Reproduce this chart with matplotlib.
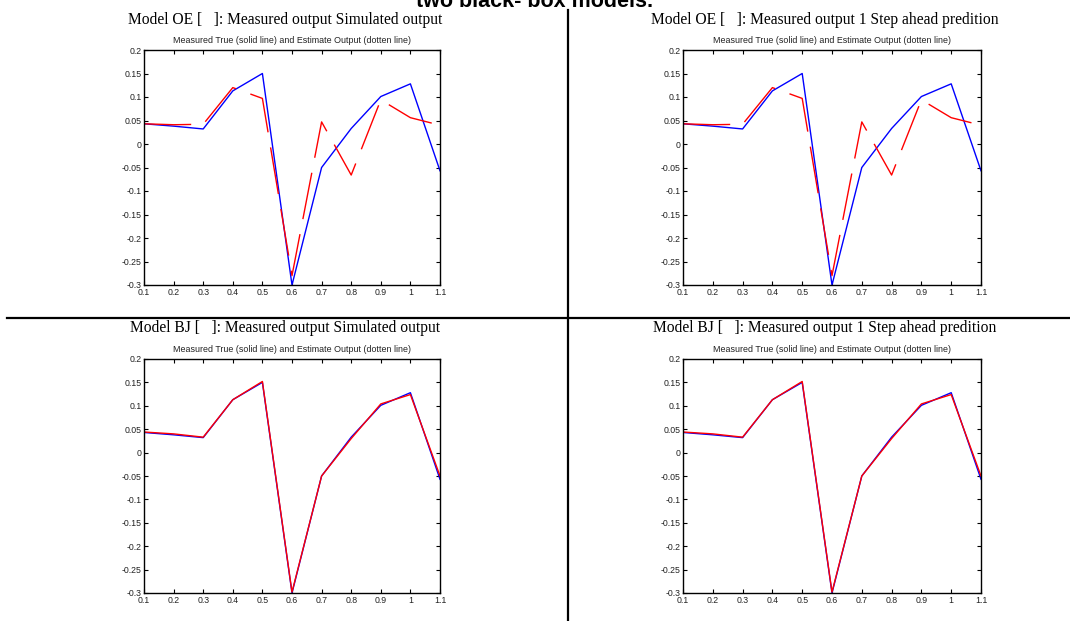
import matplotlib
matplotlib.use("Agg")
import matplotlib.pyplot as plt
from matplotlib.lines import Line2D

# ---- data ----
x_vals = [0.1, 0.2, 0.3, 0.4, 0.5, 0.6, 0.7, 0.8, 0.9, 1.0, 1.1]
measured = [0.043, 0.038, 0.032, 0.113, 0.150, -0.300, -0.050, 0.033, 0.101, 0.128, -0.057]
oe_estimate = [0.043, 0.041, 0.042, 0.120, 0.097, -0.280, 0.047, -0.066, 0.094, 0.056, 0.040]
bj_estimate = [0.044, 0.040, 0.033, 0.113, 0.152, -0.298, -0.050, 0.030, 0.104, 0.124, -0.050]

xticks = [0.1, 0.2, 0.3, 0.4, 0.5, 0.6, 0.7, 0.8, 0.9, 1.0, 1.1]
xtick_labels = ["0.1", "0.2", "0.3", "0.4", "0.5", "0.6", "0.7", "0.8", "0.9", "1", "1.1"]
yticks = [0.2, 0.15, 0.1, 0.05, 0.0, -0.05, -0.1, -0.15, -0.2, -0.25, -0.3]
ytick_labels = ["0.2", "0.15", "0.1", "0.05", "0", "-0.05", "-0.1", "-0.15", "-0.2", "-0.25", "-0.3"]

panel_titles = [
    "Model OE [   ]: Measured output Simulated output",
    "Model OE [   ]: Measured output 1 Step ahead predition",
    "Model BJ [   ]: Measured output Simulated output",
    "Model BJ [   ]: Measured output 1 Step ahead predition",
]
sub_title = "Measured True (solid line) and Estimate Output (dotten line)"
top_text = "two black- box models."

W, H = 1070, 621
fig = plt.figure(figsize=(W / 100, H / 100), dpi=100)

def px_axes(l, t, r, b):
    return fig.add_axes([l / W, 1 - b / H, (r - l) / W, (b - t) / H])

boxes = [(144, 50, 440, 285), (683, 50, 981, 285),
         (144, 359, 440, 593), (683, 359, 981, 593)]
estimates = [oe_estimate, oe_estimate, bj_estimate, bj_estimate]
title_y = [20, 20, 328, 328]

for i, (box, est) in enumerate(zip(boxes, estimates)):
    ax = px_axes(*box)
    ax.plot(x_vals, measured, color="#0000ff", lw=1.0)
    if i < 2:
        ax.plot(x_vals, est, color="#ff0000", lw=1.0, linestyle=(0, (34, 11)))
    else:
        ax.plot(x_vals, est, color="#ff0000", lw=1.0)
    ax.set_xlim(0.1, 1.1)
    ax.set_ylim(-0.3, 0.2)
    ax.set_xticks(xticks)
    ax.set_xticklabels(xtick_labels)
    ax.set_yticks(yticks)
    ax.set_yticklabels(ytick_labels)
    ax.tick_params(direction="in", length=3, width=0.8, labelsize=6.3,
                   top=True, right=True, colors="black", labelcolor="#222222")
    ax.tick_params(axis="x", pad=2.5)
    ax.tick_params(axis="y", pad=1.5)
    for lab in ax.get_xticklabels() + ax.get_yticklabels():
        lab.set_family("Liberation Sans")
    for s in ax.spines.values():
        s.set_linewidth(1.0)
    ax.set_title(sub_title, fontsize=6.4, family="Liberation Sans", pad=5, color="#222222")
    cx = (box[0] + box[2]) / 2 - 7
    fig.text(cx / W, 1 - title_y[i] / H, panel_titles[i],
             ha="center", va="center", fontsize=11.2, family="Liberation Serif")

# divider lines
fig.add_artist(Line2D([568 / W, 568 / W], [1 - 10 / H, 0], color="black", lw=1.6,
                      transform=fig.transFigure))
fig.add_artist(Line2D([7 / W, 1.0], [1 - 318 / H, 1 - 318 / H], color="black", lw=1.6,
                      transform=fig.transFigure))

fig.text(535 / W, 1 - 7 / H, top_text, ha="center", va="baseline", fontsize=15.5,
         fontweight="bold", family="Liberation Sans")

fig.savefig("out.png", dpi=100)
